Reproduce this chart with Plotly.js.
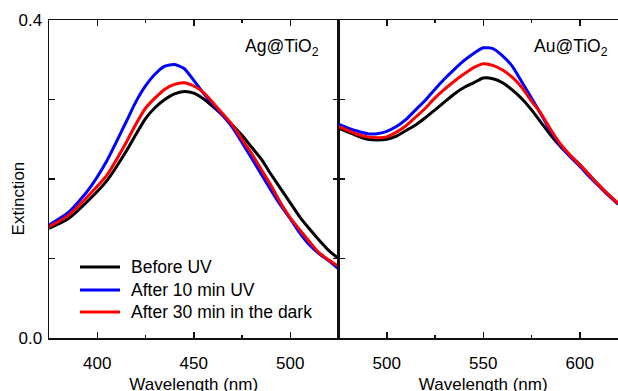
<!DOCTYPE html>
<html>
<head>
<meta charset="utf-8">
<script src="https://cdn.plot.ly/plotly-3.0.1.min.js"></script>
<style>
html, body { margin: 0; padding: 0; overflow: hidden; background: #fff; }
#chart { width: 628px; height: 394px; }
</style>
</head>
<body>
<div id="chart"></div>
<script>
// ---- Data ----
const seriesNames = ["Before UV", "After 10 min UV", "After 30 min in the dark"];
const seriesColors = ["#000000", "#0000ff", "#ff0000"];

// Ag@TiO2 panel
const agWavelength = [375, 385, 395, 405, 415, 420, 425, 430, 435, 440, 445, 450, 455, 460, 465, 470, 475, 480, 485, 490, 495, 500, 505, 510, 515, 520, 525];
const agBefore = [0.138, 0.150, 0.172, 0.198, 0.235, 0.256, 0.276, 0.290, 0.300, 0.307, 0.310, 0.308, 0.301, 0.291, 0.280, 0.268, 0.255, 0.240, 0.225, 0.206, 0.188, 0.170, 0.152, 0.137, 0.123, 0.110, 0.100];
const agAfterUV = [0.142, 0.158, 0.185, 0.223, 0.272, 0.297, 0.317, 0.332, 0.342, 0.344, 0.339, 0.324, 0.308, 0.294, 0.280, 0.265, 0.246, 0.226, 0.206, 0.186, 0.167, 0.150, 0.132, 0.117, 0.106, 0.097, 0.087];
const agDark = [0.140, 0.154, 0.178, 0.205, 0.246, 0.269, 0.289, 0.302, 0.313, 0.319, 0.321, 0.317, 0.309, 0.296, 0.282, 0.268, 0.250, 0.232, 0.212, 0.192, 0.170, 0.151, 0.136, 0.121, 0.107, 0.098, 0.090];

// Au@TiO2 panel
const auWavelength = [475, 480, 485, 490, 495, 500, 505, 510, 515, 520, 525, 530, 535, 540, 545, 550, 555, 560, 565, 570, 575, 580, 585, 590, 595, 600, 605, 610, 615, 620];
const auBefore = [0.264, 0.259, 0.254, 0.250, 0.249, 0.250, 0.254, 0.261, 0.268, 0.277, 0.287, 0.297, 0.307, 0.315, 0.321, 0.327, 0.326, 0.321, 0.312, 0.301, 0.287, 0.271, 0.255, 0.241, 0.229, 0.218, 0.205, 0.192, 0.180, 0.169];
const auAfterUV = [0.269, 0.264, 0.260, 0.257, 0.257, 0.260, 0.266, 0.275, 0.287, 0.299, 0.313, 0.326, 0.338, 0.349, 0.358, 0.365, 0.364, 0.355, 0.342, 0.322, 0.302, 0.281, 0.260, 0.242, 0.228, 0.216, 0.203, 0.191, 0.179, 0.168];
const auDark = [0.266, 0.261, 0.256, 0.253, 0.252, 0.253, 0.259, 0.267, 0.278, 0.289, 0.302, 0.313, 0.323, 0.332, 0.340, 0.345, 0.343, 0.337, 0.328, 0.315, 0.298, 0.282, 0.262, 0.244, 0.230, 0.218, 0.205, 0.192, 0.180, 0.169];

const yTickVals = [0, 0.4];
const yTickText = ["0.0", "0.4"];
const xTickValsAg = [400, 450, 500];
const xTickValsAu = [500, 550, 600];

const panelLabels = ["Ag@TiO<sub>2</sub>", "Au@TiO<sub>2</sub>"];
const xTitle = "Wavelength (nm)";
const yTitle = "Extinction";

// ---- Build traces ----
const agSeries = [agBefore, agAfterUV, agDark];
const auSeries = [auBefore, auAfterUV, auDark];
const traces = [];
agSeries.forEach((ys, i) => {
  traces.push({
    x: agWavelength, y: ys, type: "scatter", mode: "lines",
    name: seriesNames[i], line: { color: seriesColors[i], width: 3, shape: "spline", smoothing: 0.6 },
    xaxis: "x", yaxis: "y", showlegend: false
  });
});
auSeries.forEach((ys, i) => {
  traces.push({
    x: auWavelength, y: ys, type: "scatter", mode: "lines",
    name: seriesNames[i], line: { color: seriesColors[i], width: 3, shape: "spline", smoothing: 0.6 },
    xaxis: "x2", yaxis: "y2", showlegend: false
  });
});

const FONT = "Liberation Sans, Arial, sans-serif";
const axisLine = { showline: true, linecolor: "#111", linewidth: 1.5, mirror: "ticks", ticks: "inside", tickcolor: "#111", tickwidth: 1.5, showgrid: false, zeroline: false };

const xCommon = Object.assign({}, axisLine, {
  ticklen: 6, tickfont: { family: FONT, size: 17, color: "#000" }, ticklabelstandoff: 9,
  minor: { ticks: "inside", ticklen: 3, dtick: 25, tickcolor: "#111", tickwidth: 1.2, showgrid: false },
  title: { text: xTitle, font: { family: FONT, size: 17, color: "#000" }, standoff: 12 }
});

const yMinor = { ticks: "inside", ticklen: 6, dtick: 0.1, tickcolor: "#111", tickwidth: 1.5, showgrid: false };

// ---- Legend drawn as paper-space swatches + labels (compact row spacing as in the reference) ----
const plotLeft = 49, plotW = 579, plotBottom = 338, plotH = 318;
const px2x = p => (p - plotLeft) / plotW;
const px2y = p => (plotBottom - p) / plotH;
const legendRowsPx = [267, 290, 312];
const legendShapes = seriesNames.map((n, i) => ({
  type: "line", xref: "paper", yref: "paper",
  x0: px2x(80), x1: px2x(120), y0: px2y(legendRowsPx[i]), y1: px2y(legendRowsPx[i]),
  line: { color: seriesColors[i], width: 3 }
}));
const legendLabels = seriesNames.map((n, i) => ({
  text: n, xref: "paper", yref: "paper", x: px2x(129), y: px2y(legendRowsPx[i]),
  xanchor: "left", yanchor: "middle", showarrow: false,
  font: { family: FONT, size: 17.5, color: "#000" }
}));

const layout = {
  width: 628, height: 394,
  margin: { l: 49, r: 0, t: 20, b: 56 },
  paper_bgcolor: "#fff", plot_bgcolor: "#fff",
  font: { family: FONT, size: 17, color: "#000" },
  showlegend: false,
  xaxis: Object.assign({}, xCommon, { domain: [0, 0.5], range: [375, 525], tickvals: xTickValsAg, anchor: "y" }),
  xaxis2: Object.assign({}, xCommon, { domain: [0.5, 1], range: [475, 625], tickvals: xTickValsAu, anchor: "y2" }),
  yaxis: Object.assign({}, axisLine, {
    range: [0, 0.4], tickvals: yTickVals, ticktext: yTickText, ticklen: 6, anchor: "x", minor: yMinor,
    tickfont: { family: FONT, size: 17, color: "#000" }, ticklabelstandoff: 2
  }),
  yaxis2: Object.assign({}, axisLine, {
    range: [0, 0.4], tickvals: yTickVals, showticklabels: false, ticklen: 6, anchor: "x2", minor: yMinor
  }),
  shapes: legendShapes,
  annotations: [
    { text: yTitle, xref: "paper", yref: "paper", x: -0.053, y: 0.44, xanchor: "center", yanchor: "middle", textangle: -90, showarrow: false, font: { family: FONT, size: 17, color: "#000" } },
    { text: panelLabels[0], xref: "paper", yref: "paper", x: 0.4698, y: 0.915, xanchor: "right", yanchor: "middle", showarrow: false, font: { family: FONT, size: 17.5, color: "#000" } },
    { text: panelLabels[1], xref: "paper", yref: "paper", x: 0.969, y: 0.915, xanchor: "right", yanchor: "middle", showarrow: false, font: { family: FONT, size: 17.5, color: "#000" } }
  ].concat(legendLabels)
};

Plotly.newPlot("chart", traces, layout, { staticPlot: true, displayModeBar: false });
</script>
</body>
</html>
